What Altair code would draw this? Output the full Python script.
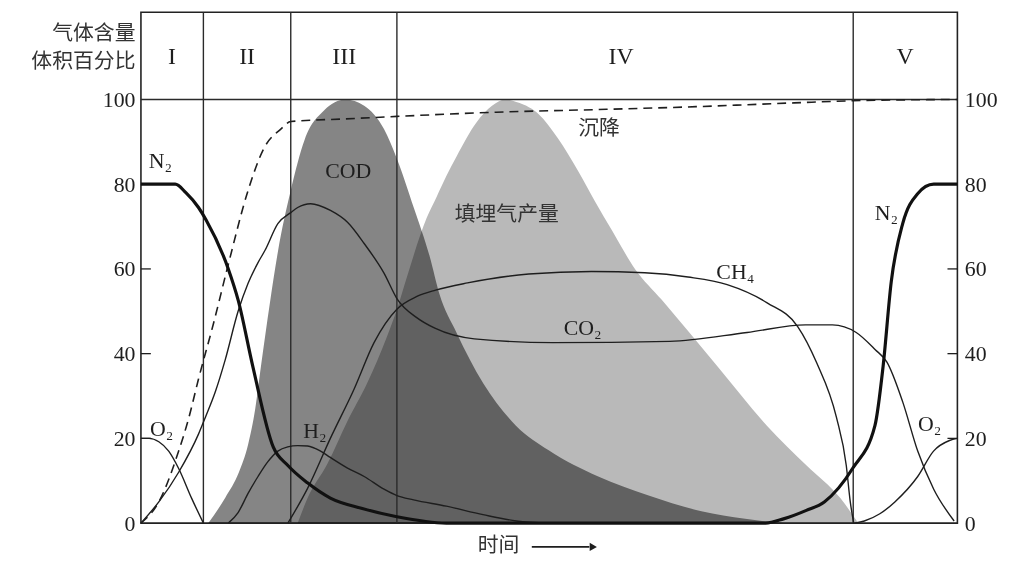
import altair as alt
import pandas as pd

# ---------------- data (time axis 0..100, gas content in volume %) ----------------
phase_bounds = [7.65, 18.35, 31.35, 87.24]
phase_names = ["I", "II", "III", "IV", "V"]
phase_centers = [3.8, 13.0, 24.9, 58.8, 93.6]

n2_t = [0, 4.2, 5.5, 7.05, 8.0, 10.7, 11.9, 13.7, 16.2, 18.0, 20.4, 23.2, 27.0, 31.35, 37.4,
        76.5, 78.7, 81.5, 83.7, 87.2, 89.9, 90.9, 91.9, 93.3, 95.1, 97.1, 100]
n2_y = [80, 80, 78, 74.5, 71.5, 60, 52.7, 37, 18, 13.6, 9.5, 5.9, 3.5, 1.5, 0,
        0, 1, 3, 5, 13, 23, 37, 57, 70.7, 77.7, 80, 80]

o2l_t = [0, 1.0, 2.19, 3.4, 4.62, 6.2, 7.65]
o2l_y = [20, 20, 19.2, 17, 12.9, 5.9, 0]

o2r_t = [87.4, 88.6, 90.5, 92.34, 95.14, 97.08, 99.03, 100]
o2r_y = [0, 0.5, 2.2, 5, 11, 17, 19.5, 20]

co2_t = [0, 2.19, 4.62, 7.05, 7.9, 9.11, 10.33, 11.9, 13.1, 14.34, 15.2, 16.77, 18.35, 19.2,
         20.78, 23.21, 25.3, 27.34, 29.77, 31.35, 33.78, 36.0, 40.83, 50.43, 64.76, 74.24,
         81.41, 84.69, 87.61, 89.91, 91.37, 93.32, 95.14, 97.1, 99.6]
co2_y = [0, 5, 12, 21, 25, 31, 38.6, 50, 56.5, 61.5, 64.4, 70.7, 73.3, 74.5,
         75.4, 73.8, 71, 66, 59, 53, 48.5, 46, 43.5, 42.6, 42.9, 45,
         46.8, 46.8, 45, 41, 38, 28.5, 17, 8, 0.5]

ch4_t = [18.0, 20.41, 23.2, 26.1, 28.55, 31.35, 33.8, 36.09, 40.0, 47.5, 55.2, 61.7, 67.0,
         71.8, 76.7, 80.44, 82.75, 85.18, 86.39, 86.88, 87.3]
ch4_y = [0, 8.2, 20, 31.6, 42.6, 50.5, 53.5, 55, 56.7, 58.8, 59.4, 59.1, 58.1,
         56.3, 52, 46.4, 37.9, 25, 13.6, 5, 0]

h2_t = [10.7, 11.9, 13.12, 14.34, 15.55, 16.77, 17.98, 19.2, 20.41, 22.0, 23.2, 25.3, 27.34,
        29.77, 31.35, 33.4, 37.4, 41.9, 46.0, 50.0]
h2_y = [0, 2.5, 7, 11, 14.5, 17, 18, 18.3, 18.2, 17, 15.5, 13, 11,
        8, 6.5, 5.5, 4, 2, 0.5, 0]

settle_t = [0, 2.19, 4.62, 5.83, 7.05, 8.87, 10.69, 13.12, 15.07, 17.13, 18.35, 24.9, 31.35,
            43.5, 55.65, 68.0, 80.0, 87.2, 100]
settle_y = [0, 5, 17, 24.6, 34, 47, 61, 78.5, 88.5, 93, 94.8, 95.4, 96,
            97, 97.6, 98.3, 99.2, 99.7, 100]

cod_t = [8.26, 10.33, 12.0, 13.12, 14.0, 14.70, 15.8, 16.77, 18.35, 20.05, 22.48, 25.03, 27.34,
         29.77, 31.35, 33.41, 35.36, 36.57, 38.64, 41.92, 45.93, 49.94, 56.01, 62.09, 68.65,
         74.0, 78.74]
cod_y = [0, 6, 12, 18.5, 27, 37, 52, 64, 78.5, 90.5, 97.5, 100, 98.5,
         93, 86, 74.5, 63, 54, 45, 33, 23, 17.2, 11, 6.6, 2.8,
         1, 0]

gas_t = [19.2, 20.41, 22.84, 25.27, 27.7, 30.13, 31.35, 32.56, 34.99, 36.21, 37.42, 38.64, 41.07,
         43.0, 44.6, 46.3, 48.72, 51.0, 53.58, 55.6, 57.72, 60.51, 63.79, 70.6, 76.67, 81.53,
         85.66, 87.85]
gas_y = [0, 5.9, 14, 24, 33, 44, 50.4, 58, 72, 77, 82, 86.5, 94.5,
         98.5, 100, 99.2, 96.5, 91, 83, 76, 69, 60, 52.7, 37, 23, 13.6,
         5.9, 0]

chem_labels = ["N₂", "O₂", "H₂", "COD", "CH₄", "CO₂", "N₂", "O₂"]
chem_t = [2.4, 2.55, 21.3, 25.4, 72.8, 54.1, 91.3, 96.6]
chem_y = [85.5, 22.2, 21.8, 83.1, 59.3, 46.1, 73.3, 23.4]

cn_labels = ["填埋气产量", "沉降"]
cn_t = [44.8, 56.1]
cn_y = [72.6, 93.0]

axis_values = [0, 20, 40, 60, 80, 100]
inner_ticks = [20, 40, 60, 80]
top_value = 100
y_top = 120.6

# ---------------- chart ----------------
W, H = 823, 515
xs = alt.Scale(domain=[0, 100], nice=False, zero=False)
ys = alt.Scale(domain=[0, y_top], nice=False, zero=False)
SERIF = "Liberation Serif"
CJK = "Noto Sans CJK SC"
INK = "#1e1e1e"


def frame(t, y, name):
    return pd.DataFrame({"t": t, "v": y, "series": name, "i": list(range(len(t)))})


X = alt.X("t:Q", scale=xs, axis=None)
Y = alt.Y("v:Q", scale=ys, axis=None)
YA = alt.Y("v:Q", scale=ys, axis=None, stack=None)

cod = alt.Chart(frame(cod_t, cod_y, "COD")).mark_area(
    color="#858585", blend="multiply", interpolate="monotone"
).encode(x=X, y=YA)

gas = alt.Chart(frame(gas_t, gas_y, "gas")).mark_area(
    color="#b9b9b9", blend="multiply", interpolate="monotone"
).encode(x=X, y=YA)

phase_lines = alt.Chart(pd.DataFrame({"t": phase_bounds})).mark_rule(
    color="#2a2a2a", strokeWidth=1.4
).encode(x=X)

top_line = alt.Chart(pd.DataFrame({"v": [top_value]})).mark_rule(
    color="#2a2a2a", strokeWidth=1.4
).encode(y=Y)

ticks_df = pd.DataFrame({"v": inner_ticks})
ticks_left = alt.Chart(ticks_df).mark_rule(color=INK, strokeWidth=1.3).encode(
    y=Y, x=alt.value(0), x2=alt.value(10))
ticks_right = alt.Chart(ticks_df).mark_rule(color=INK, strokeWidth=1.3).encode(
    y=Y, x=alt.value(W - 10), x2=alt.value(W))

thin_df = pd.concat([
    frame(o2l_t, o2l_y, "O2a"),
    frame(o2r_t, o2r_y, "O2b"),
    frame(co2_t, co2_y, "CO2"),
    frame(ch4_t, ch4_y, "CH4"),
    frame(h2_t, h2_y, "H2"),
])
thin = alt.Chart(thin_df).mark_line(
    color=INK, strokeWidth=1.4, interpolate="monotone"
).encode(x=X, y=Y, detail="series:N", order="i:Q")

n2 = alt.Chart(frame(n2_t, n2_y, "N2")).mark_line(
    color="#111111", strokeWidth=3.2, interpolate="monotone"
).encode(x=X, y=Y, order="i:Q")

settle = alt.Chart(frame(settle_t, settle_y, "settle")).mark_line(
    color=INK, strokeWidth=1.6, strokeDash=[9, 6], interpolate="monotone"
).encode(x=X, y=Y, order="i:Q")

chem = alt.Chart(pd.DataFrame({"t": chem_t, "v": chem_y, "label": chem_labels})).mark_text(
    font=SERIF, fontSize=22, color=INK, align="center", baseline="middle"
).encode(x=X, y=Y, text="label:N")

cn = alt.Chart(pd.DataFrame({"t": cn_t, "v": cn_y, "label": cn_labels})).mark_text(
    font=CJK, fontSize=21, color="#333333", align="center", baseline="middle"
).encode(x=X, y=Y, text="label:N")

phases = alt.Chart(pd.DataFrame({"t": phase_centers, "v": [110] * 5, "label": phase_names})).mark_text(
    font=SERIF, fontSize=24, color=INK, align="center", baseline="middle"
).encode(x=X, y=Y, text="label:N")

# axes (left, right, bottom title)
ax_common = dict(values=axis_values, ticks=False, domain=False, grid=False,
                 labelFont=SERIF, labelFontSize=22, labelColor=INK)
left_axis = alt.Chart(pd.DataFrame({"v": axis_values, "t": [0] * 6})).mark_point(opacity=0).encode(
    x=alt.X("t:Q", scale=xs, axis=alt.Axis(
        orient="bottom", labels=False, ticks=False, domain=False, grid=False,
        title="时间", titleFont=CJK, titleFontSize=21, titleFontWeight="normal",
        titleColor="#333333", titleX=360, titleY=12, titleAlign="center")),
    y=alt.Y("v:Q", scale=ys, axis=alt.Axis(
        orient="left", labelPadding=6,
        title=["气体含量", "体积百分比"], titleAngle=0, titleAlign="right",
        titleBaseline="top", titleX=-6, titleY=11, titleFont=CJK, titleFontSize=21,
        titleFontWeight="normal", titleLineHeight=28, titleColor="#333333",
        **ax_common)),
)
right_axis = alt.Chart(pd.DataFrame({"v": axis_values, "t": [0] * 6})).mark_point(opacity=0).encode(
    x=X,
    y=alt.Y("v:Q", scale=ys, axis=alt.Axis(orient="right", labelPadding=7, title=None, **ax_common)),
)

arrow_shaft = alt.Chart(pd.DataFrame({"a": [0]})).mark_rule(color=INK, strokeWidth=1.6).encode(
    x=alt.value(394), x2=alt.value(452), y=alt.value(H + 24))
arrow_head = alt.Chart(pd.DataFrame({"a": [0]})).mark_point(
    shape="triangle-right", filled=True, color=INK, size=70, opacity=1
).encode(x=alt.value(456), y=alt.value(H + 24))

chart = alt.layer(
    cod, gas, phase_lines, top_line, ticks_left, ticks_right,
    thin, settle, n2, chem, cn, phases, left_axis, right_axis, arrow_shaft, arrow_head
).resolve_axis(y="independent", x="independent").properties(
    width=W, height=H,
    padding={"left": 134, "top": 2, "right": 50, "bottom": 40},
    autosize="none",
    background="white",
).configure_view(stroke="#222222", strokeWidth=1.6)

chart.save("out.html", embed_options={"renderer": "svg", "actions": False})
